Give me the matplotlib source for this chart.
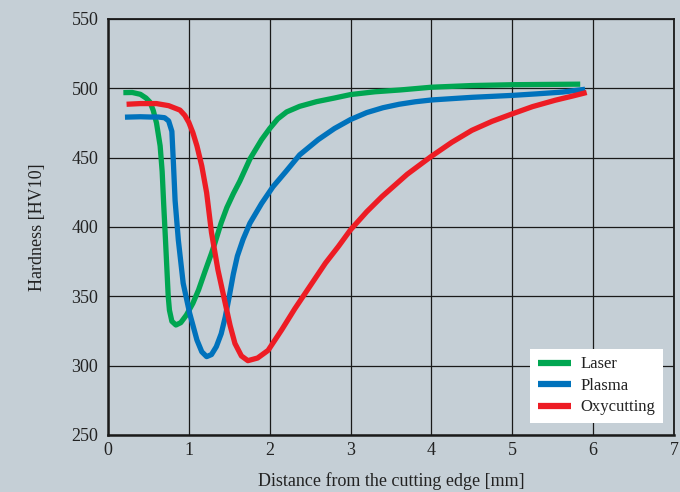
import matplotlib
matplotlib.use("Agg")
import matplotlib.pyplot as plt

# ---- data ----
laser_x = [0.19, 0.30, 0.40, 0.47, 0.52, 0.56, 0.60, 0.645, 0.67, 0.69, 0.71, 0.73, 0.745,
           0.76, 0.79, 0.84, 0.90, 0.97, 1.05, 1.12, 1.20, 1.28, 1.32, 1.40, 1.47, 1.55,
           1.63, 1.755, 1.90, 2.00, 2.10, 2.21, 2.37, 2.58, 2.80, 3.00, 3.30, 3.61, 4.00,
           4.50, 5.00, 5.40, 5.84]
laser_y = [496.9, 497.0, 495.7, 493.0, 490.0, 484.0, 475.0, 458.5, 440.0, 415.0, 392.0,
           368.0, 350.0, 340.0, 332.0, 329.3, 331.0, 336.5, 345.0, 354.6, 368.0, 381.0,
           388.0, 403.0, 414.0, 424.0, 433.0, 449.0, 463.0, 471.0, 478.0, 483.0, 487.0,
           490.4, 493.0, 495.5, 497.5, 498.8, 500.8, 502.0, 502.6, 502.8, 503.0]

plasma_x = [0.21, 0.40, 0.52, 0.62, 0.70, 0.75, 0.79, 0.81, 0.83, 0.87, 0.93, 1.01, 1.10,
            1.16, 1.22, 1.28, 1.34, 1.40, 1.45, 1.50, 1.55, 1.60, 1.67, 1.755, 1.90, 2.04,
            2.20, 2.37, 2.60, 2.80, 3.00, 3.20, 3.40, 3.60, 3.80, 4.00, 4.50, 5.00, 5.30,
            5.62, 5.90]
plasma_y = [479.2, 479.5, 479.3, 479.3, 478.8, 476.5, 469.0, 445.0, 419.0, 390.6, 359.4,
            337.8, 318.5, 310.0, 306.5, 308.0, 313.7, 323.0, 335.0, 350.0, 366.0, 379.0,
            391.0, 402.7, 417.0, 429.0, 440.0, 452.0, 463.0, 471.0, 477.5, 482.5, 486.0,
            488.5, 490.3, 491.6, 493.5, 494.9, 496.0, 497.3, 499.3]

oxy_x = [0.23, 0.40, 0.60, 0.75, 0.89, 0.95, 1.00, 1.05, 1.10, 1.16, 1.22, 1.28, 1.36,
         1.45, 1.51, 1.57, 1.65, 1.73, 1.85, 1.98, 2.15, 2.31, 2.50, 2.69, 2.85, 3.00,
         3.20, 3.39, 3.70, 4.00, 4.25, 4.50, 4.75, 5.00, 5.25, 5.53, 5.75, 5.92]
oxy_y = [488.5, 489.0, 489.0, 487.5, 484.3, 480.5, 475.4, 468.0, 458.5, 444.0, 424.7,
         396.0, 369.0, 345.0, 329.0, 316.0, 307.0, 303.6, 305.5, 311.0, 326.0, 341.0,
         357.5, 374.0, 386.0, 398.0, 411.0, 422.0, 438.0, 451.0, 461.0, 469.7, 476.2,
         481.6, 486.8, 491.4, 494.5, 497.0]

series_names = ["Laser", "Plasma", "Oxycutting"]
series_colors = ["#00a651", "#0072bc", "#ed1c24"]

x_ticks = [0, 1, 2, 3, 4, 5, 6, 7]
y_ticks = [250, 300, 350, 400, 450, 500, 550]
x_label = "Distance from the cutting edge [mm]"
y_label = "Hardness [HV10]"

# ---- drawing ----
plt.rcParams['font.family'] = ['Liberation Serif', 'DejaVu Serif']
bg = "#c5cfd6"
txt = '#222222'

fig = plt.figure(figsize=(6.8, 4.92), dpi=100, facecolor=bg)
ax = fig.add_axes([0.1588, 0.1159, 0.8324, 0.8455])
ax.set_facecolor(bg)

for xs, ys, name, col in zip([laser_x, plasma_x, oxy_x], [laser_y, plasma_y, oxy_y],
                             series_names, series_colors):
    ax.plot(xs, ys, color=col, lw=3.8, label=name, solid_joinstyle='round',
            solid_capstyle='butt', zorder=3)

ax.set_xlim(0, 7)
ax.set_ylim(250, 550)
ax.set_xticks(x_ticks)
ax.set_yticks(y_ticks)
ax.grid(True, color='#1a1a1a', lw=0.9, zorder=1)
ax.tick_params(length=0, labelsize=13, colors=txt)
ax.tick_params(axis='x', pad=5)
ax.tick_params(axis='y', pad=7)
for s in ax.spines.values():
    s.set_color('#1a1a1a')
    s.set_linewidth(1.3)
ax.spines['bottom'].set_linewidth(1.8)
ax.spines['left'].set_linewidth(1.8)

ax.set_xlabel(x_label, fontsize=13, color=txt)
ax.set_ylabel(y_label, fontsize=13, color=txt)
ax.xaxis.set_label_coords(0.5, -0.09)
ax.yaxis.set_label_coords(-0.109, 0.5)

leg = ax.legend(loc='lower right', bbox_to_anchor=(0.98, 0.029), fontsize=12,
                frameon=True, fancybox=False, framealpha=1, edgecolor='white',
                facecolor='white', handlelength=2.0, handletextpad=0.55,
                labelspacing=0.33, borderpad=0.45, borderaxespad=0)
leg.get_frame().set_linewidth(0)
for h in leg.get_lines():
    h.set_linewidth(4.5)
for t in leg.get_texts():
    t.set_color(txt)
leg.set_zorder(5)

fig.savefig("out.png", dpi=100, facecolor=bg)
